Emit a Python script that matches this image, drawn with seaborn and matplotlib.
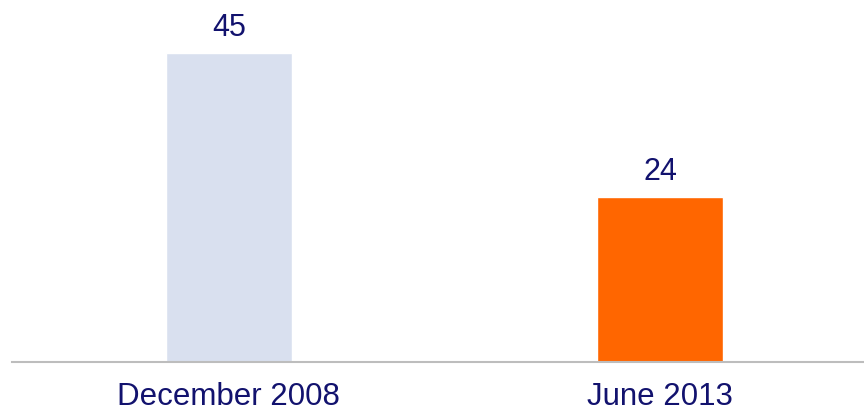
import matplotlib
matplotlib.use("Agg")
import matplotlib.pyplot as plt
import seaborn as sns
import pandas as pd

categories = ["December 2008", "June 2013"]
values = [45, 24]
bar_colors = ["#D9E0EF", "#FF6600"]
TEXT = "#12126E"

sns.set_theme(style="white")
plt.rcParams["font.family"] = ["Liberation Sans", "DejaVu Sans"]

df = pd.DataFrame({"period": categories, "value": values})

fig = plt.figure(figsize=(8.64, 4.13), dpi=100)
ax = fig.add_axes([12 / 864, 51 / 413, 1 - 12 / 864, 330 / 413])

sns.barplot(data=df, x="period", y="value", hue="period", palette=bar_colors,
            width=0.292, legend=False, ax=ax, saturation=1)

ax.set_xlim(-0.503, 1.473)
ax.set_ylim(0, 330 / 6.87)
for i, v in enumerate(values):
    ax.annotate(str(v), (i, v), xytext=(0, 12), textcoords="offset points",
                ha="center", va="baseline", fontsize=22, color=TEXT,
                annotation_clip=False)

ax.set_xlabel("")
ax.set_ylabel("")
ax.set_yticks([])
ax.tick_params(axis="x", length=0, pad=14.5, labelsize=22.5, labelcolor=TEXT)
for s in ["top", "right", "left"]:
    ax.spines[s].set_visible(False)
ax.spines["bottom"].set_color("#BDBDBD")
ax.spines["bottom"].set_linewidth(1.5)

fig.savefig("out.png", dpi=100)
